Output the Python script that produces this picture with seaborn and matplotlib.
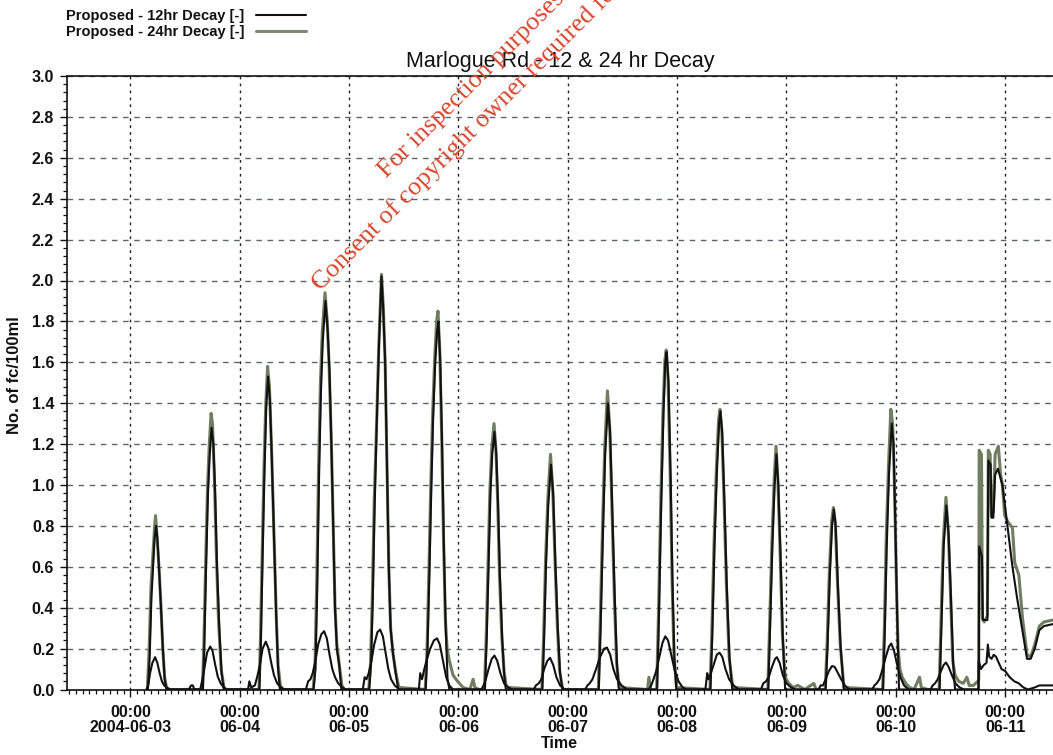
import numpy as np
import pandas as pd
import matplotlib
matplotlib.use("Agg")
import matplotlib.pyplot as plt
import matplotlib.dates as mdates
from matplotlib.ticker import FixedLocator, FixedFormatter, MultipleLocator
import seaborn as sns

# ---------------- data (hours after 2004-06-03 00:00, No. of fc/100ml) ----------------
decay_12h = [
    (3.8,0.0),(4.2,0.15),(4.6,0.45),(5.0,0.62),(5.3,0.74),(5.6,0.80),(5.9,0.74),(6.3,0.58),(6.7,0.40),(7.1,0.2),(7.5,0.05),(7.9,0.0),
    (15.9,0.0),(16.2,0.2),(16.6,0.6),(17.0,0.95),(17.4,1.15),(17.8,1.28),(18.2,1.2),(18.6,0.95),(19.0,0.6),(19.5,0.3),(20.0,0.08),(20.5,0.0),
    (28.3,0.0),(28.6,0.2),(29.0,0.65),(29.4,1.05),(29.8,1.38),(30.2,1.53),(30.6,1.42),(31.0,1.15),(31.5,0.75),(32.0,0.35),(32.4,0.1),(32.8,0.0),
    (40.2,0.0),(40.6,0.1),(41.0,0.5),(41.4,1.05),(41.8,1.45),(42.2,1.7),(42.8,1.90),(43.3,1.75),(43.7,1.55),(44.1,1.2),(44.5,0.8),(44.9,0.4),(45.3,0.2),(45.8,0.12),(46.3,0.0),
    (52.4,0.0),(52.8,0.12),(53.2,0.45),(53.6,0.9),(54.0,1.25),(54.5,1.65),(55.1,2.02),(55.5,1.85),(55.9,1.6),(56.3,1.1),(56.7,0.6),(57.1,0.3),(57.6,0.18),(58.2,0.08),(58.8,0.0),
    (64.8,0.0),(65.2,0.2),(65.6,0.55),(66.0,0.95),(66.4,1.3),(66.9,1.6),(67.3,1.75),(67.6,1.80),(68.0,1.6),(68.4,1.2),(68.8,0.7),(69.2,0.3),(69.6,0.05),(70.0,0.0),
    (77.8,0.0),(78.2,0.25),(78.6,0.6),(79.0,0.95),(79.4,1.15),(79.9,1.26),(80.3,1.15),(80.7,0.9),(81.1,0.55),(81.6,0.25),(82.0,0.08),(82.4,0.0),
    (90.4,0.0),(90.8,0.25),(91.2,0.6),(91.7,0.9),(92.3,1.10),(92.8,0.95),(93.3,0.6),(93.8,0.3),(94.3,0.08),(94.8,0.0),
    (102.8,0.0),(103.2,0.3),(103.7,0.75),(104.2,1.15),(104.8,1.40),(105.3,1.25),(105.8,0.85),(106.3,0.45),(106.8,0.12),(107.2,0.0),
    (115.6,0.0),(116.0,0.35),(116.5,0.9),(117.0,1.35),(117.4,1.6),(117.7,1.65),(118.1,1.5),(118.6,1.0),(119.0,0.5),(119.4,0.15),(119.8,0.0),
    (127.3,0.0),(127.7,0.25),(128.2,0.7),(128.7,1.05),(129.2,1.3),(129.5,1.36),(129.9,1.25),(130.4,0.9),(130.9,0.5),(131.5,0.15),(132.1,0.0),
    (140.0,0.0),(140.4,0.3),(140.9,0.7),(141.4,1.0),(141.8,1.15),(142.2,1.0),(142.7,0.65),(143.2,0.25),(143.7,0.0),
    (152.6,0.0),(153.0,0.2),(153.5,0.55),(154.0,0.8),(154.4,0.88),(154.8,0.8),(155.3,0.5),(155.9,0.2),(156.6,0.0),
    (165.2,0.0),(165.6,0.3),(166.0,0.7),(166.5,1.05),(167.1,1.30),(167.5,1.2),(167.9,0.8),(168.3,0.35),(168.7,0.0),
    (177.6,0.0),(178.0,0.3),(178.5,0.7),(179.1,0.90),(179.6,0.75),(180.1,0.45),(180.6,0.12),(181.0,0.0),
    (186.2,0.0),(186.3,0.70),(186.9,0.65),(187.1,0.34),(188.1,0.34),(188.3,1.12),(188.8,1.10),(189.0,0.84),(189.4,0.84),(189.8,1.05),
    (190.4,1.08),(191.4,1.0),(192.5,0.8),(193.6,0.6),(194.6,0.45),(195.7,0.3),(196.8,0.15),(197.6,0.15),(198.5,0.2),(199.5,0.29),(200.5,0.31),(202.5,0.32),
]

decay_24h = [
    (3.7,0.0),(4.1,0.2),(4.5,0.5),(4.9,0.65),(5.3,0.80),(5.5,0.85),(5.8,0.76),(6.3,0.58),(6.7,0.40),(7.1,0.2),(7.5,0.06),(7.9,0.01),(8.5,0.0),
    (15.8,0.0),(16.1,0.22),(16.5,0.62),(16.9,0.98),(17.3,1.2),(17.7,1.35),(18.0,1.3),(18.4,1.05),(18.8,0.7),(19.3,0.35),(19.9,0.1),(20.6,0.0),
    (28.2,0.0),(28.5,0.22),(28.9,0.66),(29.3,1.08),(29.7,1.4),(30.1,1.58),(30.5,1.48),(31.0,1.15),(31.5,0.75),(32.0,0.36),(32.4,0.12),(32.9,0.02),(33.5,0.0),
    (40.1,0.0),(40.5,0.12),(40.9,0.55),(41.3,1.1),(41.7,1.5),(42.1,1.75),(42.7,1.94),(43.2,1.8),(43.6,1.58),(44.1,1.2),(44.5,0.8),(44.9,0.4),(45.3,0.22),(45.8,0.13),(46.4,0.02),(47.0,0.0),
    (52.3,0.0),(52.7,0.13),(53.1,0.47),(53.5,0.92),(54.0,1.28),(54.5,1.68),(55.1,2.03),(55.5,1.87),(55.9,1.6),(56.3,1.1),(56.7,0.6),(57.1,0.3),(57.6,0.18),(58.2,0.09),(58.9,0.01),
    (64.7,0.0),(65.1,0.2),(65.5,0.57),(65.9,0.98),(66.3,1.33),(66.8,1.63),(67.2,1.8),(67.5,1.85),(67.9,1.65),(68.3,1.25),(68.7,0.75),(69.1,0.35),(69.5,0.2),
    (70.0,0.14),(70.8,0.07),(71.8,0.04),(73.0,0.01),(74.5,0.0),(75.2,0.05),(75.6,0.01),(76.5,0.0),
    (77.7,0.0),(78.1,0.27),(78.5,0.62),(78.9,0.98),(79.3,1.18),(79.8,1.30),(80.2,1.18),(80.6,0.92),(81.0,0.56),(81.5,0.26),(82.0,0.09),(82.5,0.01),
    (90.3,0.0),(90.7,0.27),(91.1,0.62),(91.6,0.93),(92.2,1.15),(92.7,0.97),(93.2,0.62),(93.7,0.31),(94.2,0.09),(94.9,0.0),
    (102.7,0.0),(103.1,0.32),(103.6,0.78),(104.1,1.18),(104.7,1.46),(105.2,1.28),(105.7,0.87),(106.2,0.46),(106.7,0.13),(107.3,0.01),
    (113.5,0.0),(113.8,0.06),(114.2,0.0),
    (115.5,0.0),(115.9,0.37),(116.4,0.92),(116.9,1.37),(117.3,1.61),(117.6,1.66),(118.0,1.52),(118.5,1.02),(118.9,0.52),(119.3,0.16),(119.9,0.01),
    (127.2,0.0),(127.6,0.27),(128.1,0.72),(128.6,1.08),(129.1,1.32),(129.4,1.37),(129.8,1.27),(130.3,0.92),(130.8,0.52),(131.4,0.16),(132.2,0.01),
    (139.9,0.0),(140.3,0.32),(140.8,0.72),(141.3,1.03),(141.7,1.19),(142.1,1.03),(142.6,0.67),(143.1,0.27),(143.7,0.06),(144.5,0.03),(145.5,0.01),(146.5,0.02),(148.0,0.0),
    (150.0,0.03),(150.5,0.0),
    (152.5,0.0),(152.9,0.22),(153.4,0.57),(153.9,0.82),(154.3,0.89),(154.7,0.82),(155.2,0.52),(155.8,0.22),(156.6,0.01),
    (165.1,0.0),(165.5,0.32),(165.9,0.75),(166.4,1.1),(166.9,1.37),(167.3,1.3),(167.7,1.0),(168.1,0.55),(168.5,0.2),(168.9,0.1),(169.4,0.06),(170.2,0.03),(171.0,0.01),
    (172.0,0.0),(173.2,0.06),(173.6,0.01),(175.0,0.0),
    (177.5,0.0),(177.9,0.32),(178.4,0.72),(179.0,0.94),(179.5,0.78),(180.0,0.47),(180.5,0.14),(181.0,0.07),(181.8,0.04),(182.8,0.03),(183.6,0.06),(184.1,0.02),(185.0,0.02),(186.0,0.04),
    (186.2,0.05),(186.3,1.17),(186.8,1.15),(187.0,0.35),(187.4,0.33),(188.1,0.36),(188.3,1.17),(188.7,1.15),(189.0,0.85),(189.4,0.87),(189.8,1.15),
    (190.5,1.19),(191.0,1.05),(191.4,1.0),(191.9,0.85),(192.6,0.82),(193.6,0.79),(194.1,0.62),(195.0,0.56),(195.8,0.35),(196.8,0.17),(197.6,0.16),
    (198.5,0.22),(199.5,0.31),(200.5,0.33),(202.5,0.34),
]

# third (unlabelled) trace with the low daily peaks
low_trace = [
    (3.5,0.0),(3.9,0.02),(4.3,0.08),(4.8,0.13),(5.4,0.158),(5.9,0.13),(6.4,0.08),(6.9,0.04),(7.4,0.02),(8.0,0.01),(8.6,0.0),
    (12.8,0.0),(13.3,0.02),(13.7,0.02),(14.0,0.0),
    (15.3,0.0),(15.7,0.04),(16.2,0.1),(16.8,0.18),(17.5,0.21),(18.0,0.19),(18.6,0.12),(19.2,0.06),(19.8,0.03),(20.5,0.01),(21.2,0.0),
    (25.8,0.0),(26.1,0.04),(26.5,0.01),(27.3,0.02),(27.8,0.06),(28.4,0.12),(29.0,0.2),(29.7,0.234),(30.3,0.2),(30.9,0.13),(31.5,0.07),(32.2,0.03),(33.0,0.01),(33.8,0.0),
    (38.5,0.0),(39.0,0.04),(39.5,0.05),(40.0,0.08),(40.6,0.14),(41.2,0.22),(41.9,0.27),(42.5,0.285),(43.1,0.25),(43.7,0.17),(44.3,0.1),(44.9,0.06),(45.6,0.03),(46.5,0.01),(47.2,0.0),
    (51.0,0.0),(51.4,0.06),(51.8,0.05),(52.3,0.08),(52.9,0.14),(53.5,0.22),(54.2,0.28),(54.8,0.293),(55.4,0.26),(56.0,0.18),(56.6,0.1),(57.2,0.05),(58.0,0.02),(59.0,0.0),
    (63.3,0.0),(63.6,0.08),(64.0,0.05),(64.5,0.1),(65.1,0.15),(65.8,0.2),(66.6,0.24),(67.3,0.25),(67.9,0.22),(68.6,0.14),(69.3,0.06),(70.0,0.02),(70.8,0.0),
    (77.0,0.0),(77.5,0.02),(78.0,0.05),(78.6,0.1),(79.3,0.15),(79.9,0.166),(80.5,0.14),(81.2,0.08),(82.0,0.03),(83.0,0.01),(83.8,0.0),
    (88.5,0.0),(89.0,0.02),(89.6,0.03),(90.2,0.05),(90.8,0.1),(91.5,0.14),(92.1,0.155),(92.8,0.12),(93.5,0.06),(94.3,0.02),(95.3,0.0),
    (99.8,0.0),(100.3,0.02),(100.8,0.03),(101.4,0.05),(102.2,0.1),(103.1,0.16),(104.0,0.2),(104.6,0.205),(105.3,0.17),(106.0,0.1),(106.8,0.05),(107.8,0.02),(109.0,0.0),
    (113.8,0.0),(114.3,0.02),(114.8,0.05),(115.4,0.09),(116.1,0.16),(116.8,0.23),(117.4,0.26),(118.0,0.24),(118.7,0.17),(119.5,0.09),(120.3,0.04),(121.2,0.01),(122.0,0.0),
    (126.2,0.0),(126.6,0.08),(126.9,0.05),(127.4,0.08),(128.0,0.12),(128.7,0.17),(129.3,0.18),(129.9,0.16),(130.6,0.1),(131.4,0.05),(132.4,0.02),(133.5,0.0),
    (138.4,0.0),(138.9,0.03),(139.5,0.04),(140.1,0.06),(140.8,0.11),(141.5,0.15),(141.9,0.158),(142.5,0.13),(143.2,0.07),(144.0,0.03),(145.0,0.01),(146.0,0.0),
    (151.0,0.0),(151.5,0.02),(152.0,0.02),(152.6,0.05),(153.3,0.09),(154.0,0.115),(154.6,0.11),(155.3,0.08),(156.0,0.05),(156.8,0.02),(157.8,0.0),
    (162.8,0.0),(163.3,0.02),(163.8,0.03),(164.4,0.05),(165.1,0.1),(165.8,0.16),(166.5,0.21),(167.0,0.225),(167.6,0.19),(168.3,0.12),(169.0,0.06),(169.8,0.02),(170.8,0.0),
    (175.6,0.0),(176.1,0.02),(176.6,0.03),(177.2,0.05),(177.9,0.09),(178.5,0.12),(179.0,0.132),(179.6,0.11),(180.3,0.07),(181.1,0.03),(182.0,0.01),(183.0,0.0),
    (186.1,0.0),(186.2,0.14),(186.7,0.1),(187.3,0.12),(187.9,0.13),(188.2,0.22),(188.5,0.16),(189.0,0.15),(189.5,0.17),(190.0,0.16),(190.6,0.13),
    (191.2,0.1),(192.0,0.09),(193.0,0.06),(194.0,0.04),(195.0,0.03),(196.0,0.01),(197.0,0.0),(198.5,0.01),(199.5,0.02),(200.8,0.02),(202.5,0.02),
]

series_labels = ["Proposed - 12hr Decay [-]", "Proposed - 24hr Decay [-]"]
day_ticks = ["2004-06-03", "2004-06-04", "2004-06-05", "2004-06-06", "2004-06-07",
             "2004-06-08", "2004-06-09", "2004-06-10", "2004-06-11"]
day_tick_labels = ["00:00\n2004-06-03", "00:00\n06-04", "00:00\n06-05", "00:00\n06-06",
                   "00:00\n06-07", "00:00\n06-08", "00:00\n06-09", "00:00\n06-10", "00:00\n06-11"]
y_ticks = [0.0, 0.2, 0.4, 0.6, 0.8, 1.0, 1.2, 1.4, 1.6, 1.8, 2.0, 2.2, 2.4, 2.6, 2.8, 3.0]
title_text = "Marlogue Rd - 12 & 24 hr Decay"
watermark_lines = ["For inspection purposes only.", "Consent of copyright owner required for any other use."]

t0 = pd.Timestamp("2004-06-03 00:00")

def to_frame(pairs):
    h = [p[0] for p in pairs]
    v = [p[1] for p in pairs]
    return pd.DataFrame({"time": t0 + pd.to_timedelta(h, unit="h"), "value": v})

df12 = to_frame(decay_12h)
df24 = to_frame(decay_24h)
dflow = to_frame(low_trace)

# ---------------- style ----------------
sns.set_theme(style="white")
plt.rcParams["font.family"] = ["Liberation Sans", "DejaVu Sans"]

W, H = 1053, 755
fig = plt.figure(figsize=(W / 100, H / 100), dpi=100)
ax_l, ax_r, ax_t, ax_b = 66.7, 1053.0, 76.0, 689.5
ax = fig.add_axes([ax_l / W, 1 - ax_b / H, (ax_r - ax_l) / W, (ax_b - ax_t) / H])

green = "#6f7d60"
sns.lineplot(data=df24, x="time", y="value", ax=ax, color=green, lw=2.2,
             estimator=None, sort=False, label=series_labels[1], zorder=3)
sns.lineplot(data=df12, x="time", y="value", ax=ax, color="#111111", lw=1.5,
             estimator=None, sort=False, label=series_labels[0], zorder=4)
sns.lineplot(data=dflow, x="time", y="value", ax=ax, color="#111111", lw=1.5,
             estimator=None, sort=False, legend=False, zorder=4)

x0 = t0 - pd.Timedelta(hours=14)
x1 = t0 + pd.Timedelta(hours=202.5)
ax.set_xlim(x0, x1)
ax.set_ylim(0, 3.0)

major = [mdates.date2num(pd.Timestamp(d)) for d in day_ticks]
ax.xaxis.set_major_locator(FixedLocator(major))
ax.xaxis.set_major_formatter(FixedFormatter(day_tick_labels))
ax.xaxis.set_minor_locator(MultipleLocator(1.5 / 24))
ax.yaxis.set_major_locator(FixedLocator(y_ticks))
ax.yaxis.set_major_formatter(FixedFormatter([f"{v:.1f}" for v in y_ticks]))
ax.yaxis.set_minor_locator(MultipleLocator(0.04))

ax.tick_params(axis="x", which="major", direction="out", length=5, width=1.0, colors="#111",
               labelsize=11.5, pad=6)
ax.tick_params(axis="x", which="minor", direction="out", length=3, width=0.9, colors="#111")
ax.tick_params(axis="y", which="major", direction="out", length=5, width=1.0, colors="#111",
               labelsize=11.5, pad=4)
ax.tick_params(axis="y", which="minor", direction="out", length=3, width=0.9, colors="#111")
ax.xaxis.set_ticks_position("bottom")
ax.yaxis.set_ticks_position("left")
for lab in ax.get_xticklabels() + ax.get_yticklabels():
    lab.set_fontweight("bold")
    lab.set_color("#111")
for lab in ax.get_xticklabels():
    lab.set_linespacing(1.05)

ax.xaxis.grid(True, which="major", linestyle=(0, (2, 3)), color="#222222", lw=1.0)
ax.yaxis.grid(True, which="major", linestyle=(0, (4, 4)), color="#5b6570", lw=1.0)
ax.set_axisbelow(True)

for s in ["left", "bottom", "top"]:
    ax.spines[s].set_visible(True)
    ax.spines[s].set_color("#111")
    ax.spines[s].set_linewidth(1.2)
ax.spines["right"].set_visible(False)

ax.set_ylabel("No. of fc/100ml", fontsize=12, fontweight="bold", color="#111")
ax.yaxis.set_label_coords((22 - ax_l) / (ax_r - ax_l), (ax_b - 375) / (ax_b - ax_t))
ax.set_xlabel("Time", fontsize=11.5, fontweight="bold", color="#111")
ax.xaxis.set_label_coords(0.5, (ax_b - 736) / (ax_b - ax_t))

# title
fig.text((ax_l + ax_r) / 2 / W, 1 - 61 / H, title_text, ha="center", va="center",
         fontsize=15.5, color="#111")

# legend (text first, sample line after)
handles, labels = ax.get_legend_handles_labels()
order = [labels.index(series_labels[0]), labels.index(series_labels[1])]
if ax.legend_:
    ax.legend_.remove()
leg = fig.legend([handles[i] for i in order], [labels[i] for i in order],
                 loc="upper left", bbox_to_anchor=(66 / W, 1 - 9 / H), frameon=False,
                 markerfirst=False, handlelength=3.4, handletextpad=0.8, labelspacing=0.12,
                 borderpad=0, borderaxespad=0, prop={"size": 10.5, "weight": "bold"})
for t in leg.get_texts():
    t.set_color("#111")
leg.get_lines()[1].set_color("#7d8a70")

# watermark
wm_color = "#d8472f"
fig.text(386 / W, 1 - 178 / H, watermark_lines[0], rotation=45, rotation_mode="anchor",
         ha="left", va="baseline", fontsize=19, color=wm_color,
         family=["Liberation Serif", "DejaVu Serif"], zorder=10)
fig.text(320 / W, 1 - 291 / H, watermark_lines[1], rotation=45, rotation_mode="anchor",
         ha="left", va="baseline", fontsize=19, color=wm_color,
         family=["Liberation Serif", "DejaVu Serif"], zorder=10)

fig.savefig("out.png", dpi=100)
